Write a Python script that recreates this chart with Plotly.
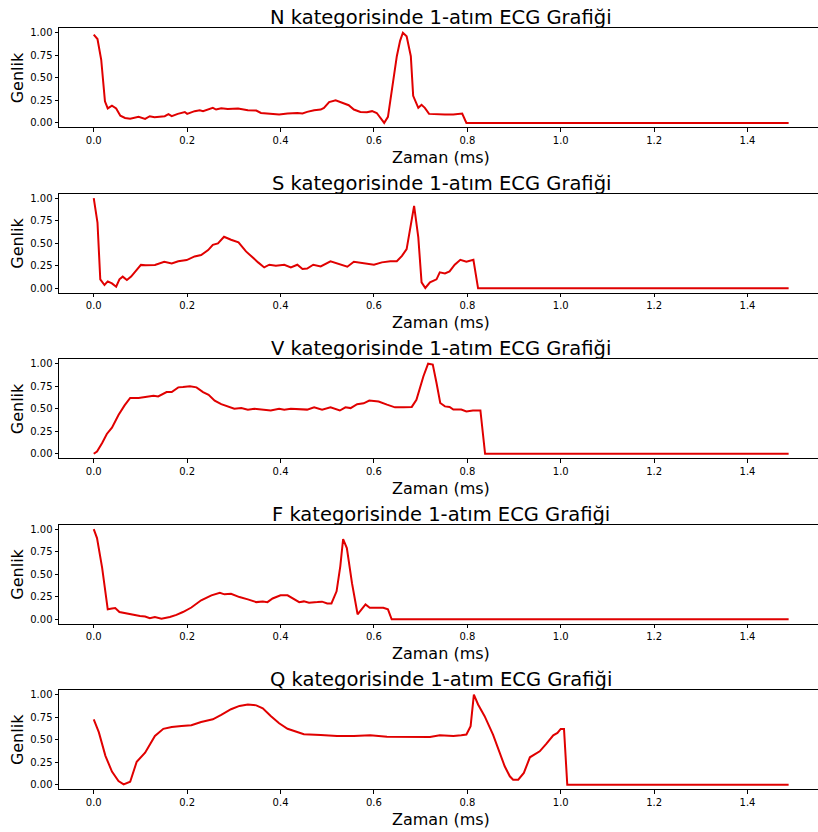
import plotly.graph_objects as go
from plotly.subplots import make_subplots

# ---- data (time in s as labelled "ms", normalised amplitude) ----
categories = ["N", "S", "V", "F", "Q"]

N_t = [0, 0.008, 0.016, 0.024, 0.030, 0.039, 0.048, 0.057, 0.067, 0.078, 0.096, 0.110, 0.120, 0.130, 0.152,
       0.160, 0.167, 0.180, 0.195, 0.200, 0.216, 0.227, 0.234, 0.245, 0.255, 0.262, 0.273, 0.287, 0.309, 0.330,
       0.348, 0.358, 0.379, 0.397, 0.415, 0.436, 0.447, 0.457, 0.472, 0.486, 0.493, 0.504, 0.518, 0.535, 0.546,
       0.557, 0.571, 0.585, 0.596, 0.606, 0.615, 0.622, 0.630, 0.638, 0.649, 0.656, 0.662, 0.670, 0.679, 0.684,
       0.695, 0.702, 0.709, 0.718, 0.734, 0.752, 0.770, 0.789, 0.798, 1.488]
N_v = [0.98, 0.93, 0.70, 0.24, 0.16, 0.19, 0.16, 0.08, 0.055, 0.045, 0.067, 0.045, 0.074, 0.063, 0.074,
       0.096, 0.074, 0.10, 0.12, 0.10, 0.13, 0.14, 0.13, 0.148, 0.167, 0.148, 0.163, 0.155, 0.16, 0.14,
       0.137, 0.11, 0.104, 0.093, 0.104, 0.11, 0.104, 0.122, 0.14, 0.148, 0.167, 0.23, 0.25, 0.22, 0.196,
       0.148, 0.122, 0.118, 0.13, 0.11, 0.055, 0.0, 0.067, 0.33, 0.74, 0.91, 1.0, 0.96, 0.74, 0.30,
       0.167, 0.20, 0.167, 0.10, 0.093, 0.093, 0.093, 0.104, 0.0, 0.0]

S_t = [0, 0.008, 0.014, 0.023, 0.030, 0.039, 0.048, 0.055, 0.062, 0.071, 0.080, 0.092, 0.101, 0.111, 0.131,
       0.151, 0.167, 0.181, 0.199, 0.216, 0.230, 0.245, 0.255, 0.266, 0.279, 0.294, 0.310, 0.326, 0.340, 0.352,
       0.365, 0.376, 0.390, 0.408, 0.422, 0.436, 0.447, 0.457, 0.470, 0.486, 0.507, 0.525, 0.543, 0.557, 0.578,
       0.600, 0.617, 0.635, 0.649, 0.660, 0.670, 0.686, 0.695, 0.702, 0.710, 0.720, 0.734, 0.741, 0.752, 0.762,
       0.773, 0.785, 0.798, 0.813, 0.823, 1.488]
S_v = [1.0, 0.73, 0.10, 0.037, 0.077, 0.055, 0.018, 0.10, 0.13, 0.092, 0.13, 0.21, 0.26, 0.255, 0.26,
       0.295, 0.277, 0.30, 0.314, 0.354, 0.37, 0.424, 0.483, 0.498, 0.572, 0.539, 0.51, 0.41, 0.35, 0.288,
       0.232, 0.262, 0.25, 0.262, 0.232, 0.262, 0.214, 0.22, 0.262, 0.243, 0.30, 0.27, 0.24, 0.295, 0.277,
       0.262, 0.288, 0.30, 0.30, 0.36, 0.435, 0.915, 0.565, 0.066, 0.004, 0.066, 0.10, 0.177, 0.166, 0.188,
       0.262, 0.317, 0.295, 0.317, 0.0, 0.0]

V_t = [0, 0.007, 0.018, 0.028, 0.039, 0.053, 0.066, 0.078, 0.096, 0.113, 0.128, 0.138, 0.156, 0.167, 0.181,
       0.191, 0.206, 0.220, 0.234, 0.246, 0.259, 0.273, 0.287, 0.301, 0.316, 0.330, 0.344, 0.358, 0.379, 0.397,
       0.408, 0.422, 0.443, 0.457, 0.472, 0.489, 0.507, 0.527, 0.539, 0.550, 0.564, 0.578, 0.590, 0.610, 0.628,
       0.645, 0.663, 0.681, 0.691, 0.706, 0.716, 0.726, 0.734, 0.742, 0.752, 0.762, 0.770, 0.787, 0.798, 0.812,
       0.828, 0.838, 1.488]
V_v = [0.0, 0.026, 0.12, 0.22, 0.29, 0.43, 0.537, 0.62, 0.62, 0.63, 0.644, 0.637, 0.685, 0.685, 0.737,
       0.74, 0.748, 0.737, 0.685, 0.655, 0.59, 0.55, 0.526, 0.50, 0.507, 0.49, 0.50, 0.49, 0.48, 0.50,
       0.49, 0.50, 0.496, 0.49, 0.515, 0.49, 0.515, 0.48, 0.515, 0.507, 0.55, 0.56, 0.59, 0.58, 0.545,
       0.515, 0.515, 0.52, 0.60, 0.86, 1.0, 0.99, 0.785, 0.563, 0.526, 0.52, 0.49, 0.49, 0.47, 0.48,
       0.48, 0.0, 0.0]

F_t = [0, 0.007, 0.018, 0.030, 0.039, 0.046, 0.055, 0.071, 0.085, 0.099, 0.110, 0.120, 0.131, 0.145, 0.163,
       0.177, 0.191, 0.209, 0.230, 0.252, 0.270, 0.280, 0.294, 0.312, 0.330, 0.348, 0.362, 0.372, 0.383, 0.400,
       0.415, 0.426, 0.440, 0.450, 0.461, 0.479, 0.489, 0.500, 0.509, 0.520, 0.528, 0.534, 0.542, 0.553, 0.565,
       0.582, 0.591, 0.606, 0.620, 0.630, 0.638, 1.488]
F_v = [1.0, 0.90, 0.57, 0.11, 0.118, 0.125, 0.08, 0.063, 0.044, 0.037, 0.03, 0.011, 0.025, 0.007, 0.025,
       0.048, 0.08, 0.13, 0.21, 0.265, 0.294, 0.276, 0.283, 0.246, 0.22, 0.19, 0.198, 0.19, 0.23, 0.265,
       0.265, 0.23, 0.19, 0.198, 0.184, 0.19, 0.195, 0.176, 0.176, 0.31, 0.59, 0.89, 0.79, 0.40, 0.055,
       0.165, 0.128, 0.128, 0.128, 0.11, 0.0, 0.0]

Q_t = [0, 0.011, 0.025, 0.039, 0.053, 0.064, 0.078, 0.092, 0.110, 0.131, 0.149, 0.167, 0.188, 0.209, 0.230,
       0.255, 0.273, 0.294, 0.312, 0.330, 0.348, 0.362, 0.379, 0.397, 0.415, 0.433, 0.450, 0.486, 0.521, 0.557,
       0.592, 0.628, 0.663, 0.699, 0.720, 0.741, 0.770, 0.787, 0.798, 0.807, 0.814, 0.823, 0.837, 0.855, 0.869,
       0.880, 0.891, 0.898, 0.909, 0.921, 0.934, 0.944, 0.955, 0.969, 0.984, 0.993, 1.000, 1.007, 1.014, 1.488]
Q_v = [0.725, 0.58, 0.32, 0.145, 0.04, 0.004, 0.033, 0.255, 0.355, 0.54, 0.62, 0.64, 0.65, 0.66, 0.696,
       0.725, 0.774, 0.837, 0.874, 0.89, 0.88, 0.848, 0.763, 0.681, 0.62, 0.585, 0.56, 0.552, 0.54, 0.54,
       0.548, 0.533, 0.533, 0.53, 0.53, 0.548, 0.54, 0.548, 0.556, 0.65, 1.0, 0.89, 0.76, 0.556, 0.37,
       0.204, 0.093, 0.056, 0.056, 0.13, 0.304, 0.333, 0.37, 0.452, 0.548, 0.574, 0.618, 0.618, 0.0, 0.0]

series = {"N": (N_t, N_v), "S": (S_t, S_v), "V": (V_t, V_v), "F": (F_t, F_v), "Q": (Q_t, Q_v)}

x_ticks = [0.0, 0.2, 0.4, 0.6, 0.8, 1.0, 1.2, 1.4]
y_ticks = [0.0, 0.25, 0.5, 0.75, 1.0]

# ---- layout geometry (page body margin removed, figure fills the window) ----
W, H = 818, 832
L_MARGIN = 59
FONT = "DejaVu Sans"
top0, step, ph = 27.3, 165.85, 99.4

fig = make_subplots(rows=5, cols=1)

annotations = []
for i, cat in enumerate(categories):
    t, v = series[cat]
    r = i + 1
    fig.add_trace(go.Scatter(x=t, y=v, mode="lines", line=dict(color="#e00000", width=2),
                             showlegend=False), row=r, col=1)
    top = top0 + step * i
    bot = top + ph
    dom = [1 - bot / H, 1 - top / H]
    xa = "xaxis" if r == 1 else f"xaxis{r}"
    ya = "yaxis" if r == 1 else f"yaxis{r}"
    xref = "x" if r == 1 else f"x{r}"
    fig.layout[ya].update(domain=dom)
    fig.layout[xa].update(domain=[0, 1])
    annotations.append(dict(text=f"{cat} kategorisinde 1-atım ECG Grafiği", xref=xref, x=0.744,
                            yref="paper", y=dom[1], yanchor="bottom", xanchor="center", yshift=-2,
                            borderpad=0, showarrow=False,
                            font=dict(family=FONT, size=19.5, color="black")))
    annotations.append(dict(text="Zaman (ms)", xref=xref, x=0.744, yref="paper", y=dom[0],
                            yanchor="middle", xanchor="center", yshift=-30, showarrow=False,
                            font=dict(family=FONT, size=16, color="black")))
    annotations.append(dict(text="Genlik", xref="paper", x=0, xshift=-41.5, yref="paper",
                            y=(dom[0] + dom[1]) / 2, yanchor="middle", xanchor="center",
                            textangle=-90, showarrow=False,
                            font=dict(family=FONT, size=16, color="black")))

fig.update_xaxes(range=[-0.0744, 1.5509], tickvals=x_ticks, tickformat=".1f", ticks="outside",
                 ticklen=3.5, tickcolor="black", showline=True, linecolor="black", linewidth=1,
                 mirror=True, showgrid=False, zeroline=False,
                 tickfont=dict(family=FONT, size=10, color="black"))
fig.update_yaxes(range=[-0.05, 1.05], tickvals=y_ticks, tickformat=".2f", ticks="outside",
                 ticklen=3.5, tickcolor="black", showline=True, linecolor="black", linewidth=1,
                 mirror=False, showgrid=False, zeroline=False,
                 tickfont=dict(family=FONT, size=10, color="black"))

fig.update_layout(width=W, height=H, margin=dict(l=L_MARGIN, r=0, t=0, b=0),
                  plot_bgcolor="white", paper_bgcolor="white", annotations=annotations,
                  font=dict(family=FONT))

fig.write_html("out.html", config={"displayModeBar": False},
               post_script="document.body.style.margin='0';document.body.style.overflow='hidden';")
